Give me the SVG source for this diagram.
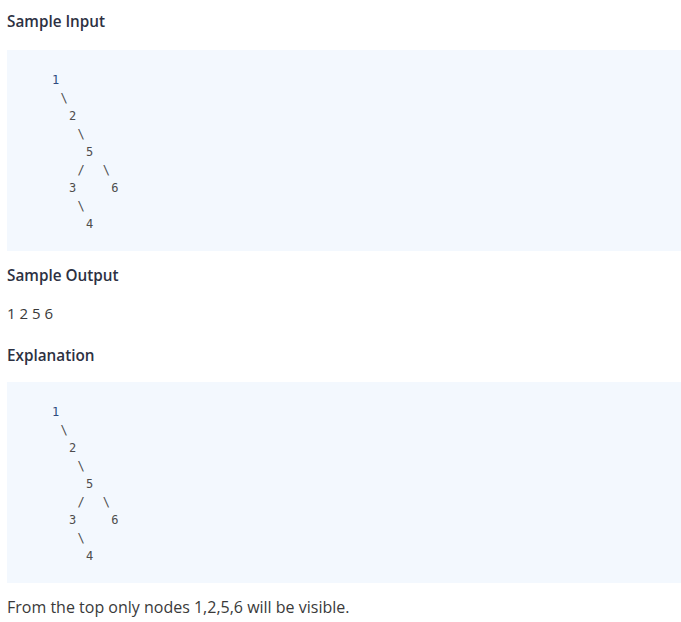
<svg xmlns="http://www.w3.org/2000/svg" width="681" height="622" viewBox="0 0 681 622">
<style>
.h{font-family:"Open Sans","Noto Sans",sans-serif;font-size:15.3px;font-weight:600;fill:#2d3142}
.p{font-family:"Open Sans","Noto Sans",sans-serif;font-size:16px;fill:#3a3a3a}
.box{fill:#f3f8fe}
.m{font-family:"DejaVu Sans Mono","Liberation Mono",monospace;font-size:12px;fill:#4d4d4d;text-anchor:middle}
.n1{fill:#2f4a7f}
</style>
<rect width="681" height="622" fill="#ffffff"/>
<text id="h-input" class="h" x="7" y="27">Sample Input</text>
<rect class="box" x="7" y="50" width="674" height="201"/>
<g id="tree1">
<text class="m n1" x="55.7" y="84">1</text>
<text class="m" x="64.1" y="102">\</text>
<text class="m" x="72.6" y="120">2</text>
<text class="m" x="81" y="138">\</text>
<text class="m" x="89.5" y="156">5</text>
<text class="m" x="81" y="174">/</text>
<text class="m" x="106.4" y="174">\</text>
<text class="m" x="72.6" y="192">3</text>
<text class="m" x="114.8" y="192">6</text>
<text class="m" x="81" y="210">\</text>
<text class="m" x="89.5" y="228">4</text>
</g>
<text id="h-output" class="h" x="7" y="281">Sample Output</text>
<text id="output" class="p" x="7" y="319" style="font-size:15px">1 2 5 6</text>
<text id="h-expl" class="h" x="7" y="361">Explanation</text>
<rect class="box" x="7" y="382" width="674" height="201"/>
<g id="tree2">
<text class="m n1" x="55.7" y="416">1</text>
<text class="m" x="64.1" y="434">\</text>
<text class="m" x="72.6" y="452">2</text>
<text class="m" x="81" y="470">\</text>
<text class="m" x="89.5" y="488">5</text>
<text class="m" x="81" y="506">/</text>
<text class="m" x="106.4" y="506">\</text>
<text class="m" x="72.6" y="524">3</text>
<text class="m" x="114.8" y="524">6</text>
<text class="m" x="81" y="542">\</text>
<text class="m" x="89.5" y="560">4</text>
</g>
<text id="footer" class="p" x="7" y="613">From the top only nodes 1,2,5,6 will be visible.</text>
</svg>
